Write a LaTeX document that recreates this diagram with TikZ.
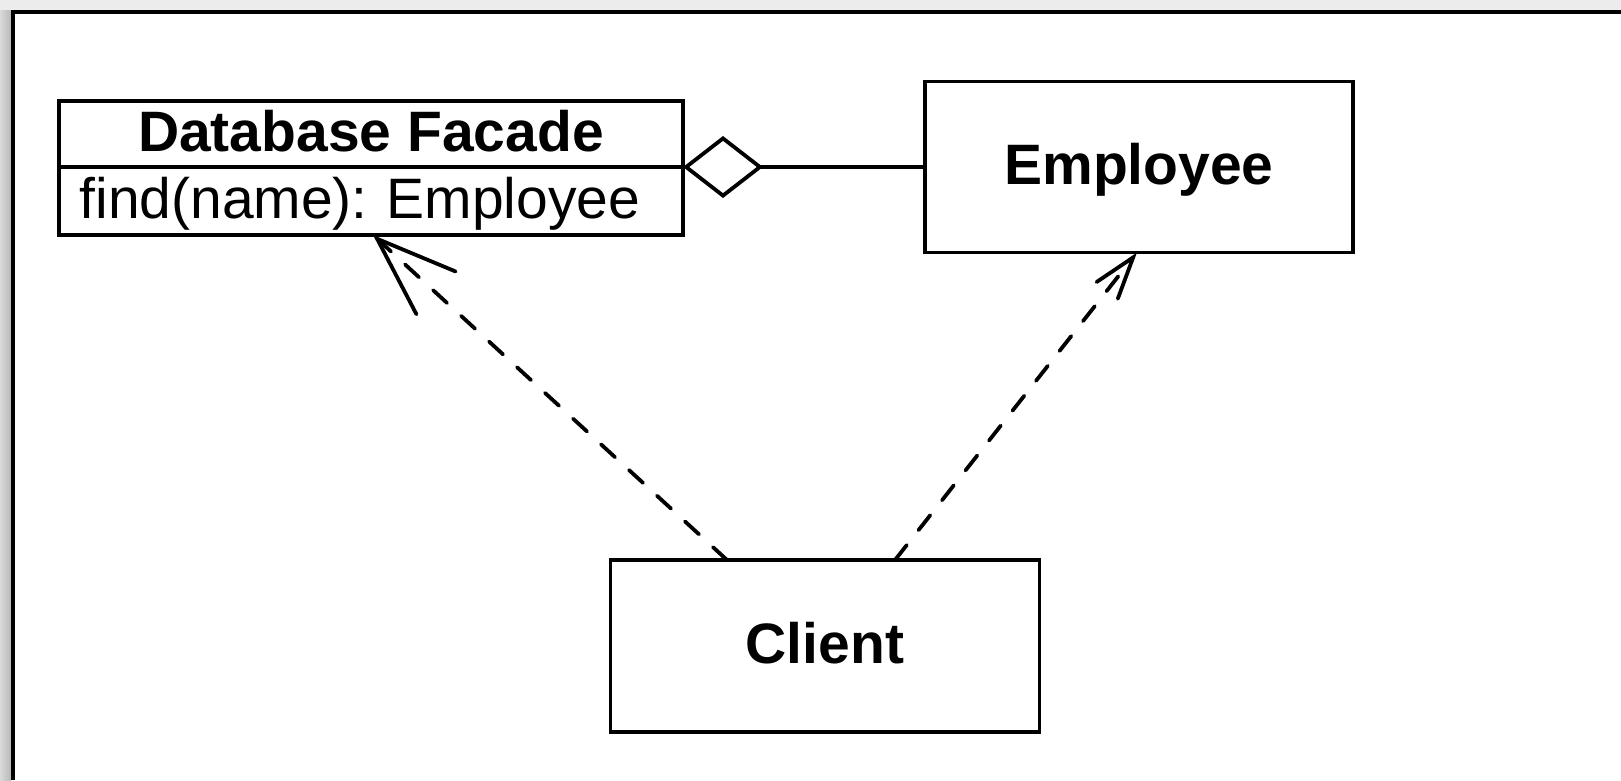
\documentclass[tikz,border=0pt]{standalone}
\usepackage{fontspec}
\setmainfont{Liberation Sans}
\usepackage{tikz}
\usetikzlibrary{arrows.meta}

\begin{document}
\begin{tikzpicture}[x=1pt, y=-1pt,
	cls/.style={shape=rectangle, draw=black, line width=3.8pt, outer sep=0pt,
		font=\fontsize{57}{60}\selectfont\frenchspacing, text height=40pt, text depth=5pt},
	depends/.style 2 args={dash pattern=on 19pt off 19pt, line cap=round, line width=3.8pt,
		-{Straight Barb[length=#1pt, width=#2pt, line cap=round]}},
	aggr/.style={line width=3.8pt, {Diamond[open, length=80pt, width=62pt]}-}]

	% window frame
	\useasboundingbox (0,0) rectangle (1621,780);
	\fill[gray!15] (0,0) rectangle (1621,780);
	\shade[left color=gray!30, right color=gray!55] (0,10) rectangle (11,780);
	\fill[white] (13,12) rectangle (1621,780);
	\draw[line width=4pt] (13,780) -- (13,11.5) -- (1621,11.5);

	\node[cls, minimum width=624pt, minimum height=66pt] (dbtitle) at (371, 134) {\textbf{Database Facade}};
	\node[cls, text width=583pt, inner xsep=20.5pt, minimum height=68pt, align=left] (dbops) at (371, 201) {find(name): Employee};
	\node[cls, minimum width=428pt, minimum height=171pt] (employee) at (1139, 167) {\textbf{Employee}};
	\node[cls, minimum width=429pt, minimum height=172pt] (client) at (825, 646) {\textbf{Client}};

	\draw[aggr] (dbtitle.south east) -- (employee.west);

	\draw[depends={80}{58}] ([xshift=-98pt]client.north) -- ([xshift=2pt]dbops.south);
	\draw[depends={42}{27}] ([xshift=70pt]client.north) -- ([xshift=-2pt]employee.south);

\end{tikzpicture}
\end{document}
